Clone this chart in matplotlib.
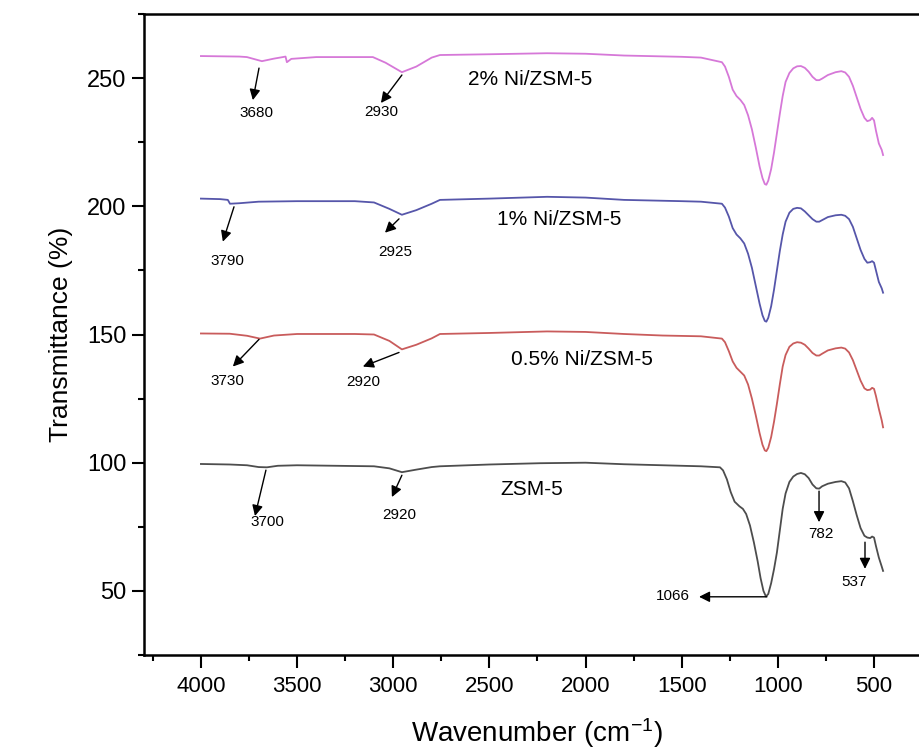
import matplotlib
matplotlib.use("Agg")
import matplotlib.pyplot as plt
from matplotlib.ticker import MultipleLocator

plt.rcParams['font.family'] = ['Liberation Sans', 'DejaVu Sans']
plt.rcParams['mathtext.fontset'] = 'custom'
plt.rcParams['mathtext.rm'] = 'Liberation Sans'
plt.rcParams['mathtext.default'] = 'regular'

# spectra: wavenumber (cm-1) / transmittance (%)
zsm_w = [4000, 3850, 3760, 3700, 3657, 3600, 3500, 3300, 3100, 3020, 2955, 2880, 2800, 2757,
         2500, 2237, 2000, 1800, 1500, 1400, 1301, 1285, 1265, 1245, 1225, 1200, 1182, 1165,
         1145, 1125, 1105, 1090, 1075, 1062, 1050, 1035, 1020, 1005, 990, 975, 960, 940, 920,
         900, 880, 860, 840, 820, 800, 785, 770, 740, 700, 670, 650, 630, 610, 590, 570, 550,
         535, 520, 510, 500, 490, 475, 460, 453]
zsm_t = [99.5, 99.3, 99.0, 98.3, 98.2, 98.8, 99.0, 98.8, 98.6, 97.8, 96.3, 97.3, 98.3, 98.6,
         99.3, 99.8, 100.0, 99.4, 98.8, 98.6, 98.2, 97.0, 93.5, 88.5, 84.8, 83.0, 82.0, 80.0,
         75.5, 69.0, 61.5, 55.0, 50.0, 47.8, 48.8, 53.0, 58.5, 65.0, 73.5, 82.0, 88.0, 92.5,
         94.6, 95.6, 96.0, 95.5, 94.0, 91.5, 90.0, 89.9, 90.8, 91.8, 92.5, 92.8, 92.3, 90.0,
         85.0, 79.5, 74.5, 71.5, 70.8, 70.6, 71.2, 70.8, 67.5, 63.0, 59.5, 57.8]

ni05_w = [4000, 3850, 3760, 3693, 3620, 3500, 3200, 3100, 3020, 2955, 2880, 2800, 2757, 2500,
          2200, 2000, 1800, 1600, 1400, 1291, 1275, 1255, 1235, 1215, 1195, 1175, 1155, 1135,
          1115, 1095, 1080, 1068, 1060, 1050, 1035, 1020, 1005, 990, 975, 960, 940, 920, 900,
          880, 860, 840, 820, 800, 785, 770, 740, 700, 670, 650, 630, 610, 590, 570, 550, 535,
          520, 510, 500, 490, 475, 460, 453]
ni05_t = [150.4, 150.3, 149.5, 148.4, 149.6, 150.2, 150.2, 150.0, 147.5, 144.2, 146.0, 148.5,
          150.2, 150.6, 151.2, 151.0, 150.2, 149.6, 149.3, 148.4, 147.0, 143.5, 139.5, 137.0,
          135.5, 134.0, 130.5, 125.0, 118.5, 111.5, 107.0, 104.8, 104.5, 105.8, 110.0, 116.0,
          123.0, 130.5, 137.5, 142.0, 145.2, 146.5, 147.0, 146.8, 146.0, 144.5, 142.8, 141.8,
          141.8, 142.5, 143.8, 144.6, 144.9, 144.5, 143.0, 140.0, 136.0, 132.0, 129.0, 128.3,
          128.5, 129.2, 128.8, 126.0, 121.0, 116.5, 113.8]

ni1_w = [4000, 3900, 3860, 3849, 3800, 3700, 3500, 3200, 3100, 3020, 2955, 2880, 2800, 2757,
         2500, 2200, 2000, 1800, 1500, 1400, 1291, 1275, 1255, 1235, 1215, 1195, 1175, 1155,
         1135, 1115, 1095, 1080, 1068, 1060, 1050, 1035, 1020, 1005, 990, 975, 960, 940, 920,
         900, 880, 860, 840, 820, 800, 785, 770, 740, 700, 670, 650, 630, 610, 590, 570, 550,
         535, 520, 510, 500, 490, 475, 460, 453]
ni1_t = [203.0, 202.8, 202.5, 201.0, 201.2, 201.8, 202.0, 202.0, 201.5, 199.0, 196.7, 198.5,
         201.0, 202.5, 203.0, 203.7, 203.4, 202.5, 202.0, 201.8, 201.0, 199.5, 196.0, 191.5,
         189.0, 187.5, 185.5, 181.5, 176.0, 169.0, 162.0, 157.5, 155.3, 155.0, 156.5, 161.0,
         167.5, 175.0, 182.5, 189.0, 194.0, 197.5, 199.0, 199.4, 199.2, 198.0, 196.5, 195.0,
         194.0, 194.0, 194.6, 195.8, 196.5, 196.7, 196.3, 195.0, 192.0, 187.5, 183.0, 179.5,
         178.0, 178.2, 178.6, 178.0, 175.0, 170.5, 168.0, 166.3]

ni2_w = [4000, 3800, 3761, 3683, 3620, 3574, 3560, 3553, 3530, 3400, 3106, 3040, 2955, 2880,
         2800, 2757, 2500, 2200, 2000, 1800, 1500, 1400, 1291, 1275, 1255, 1235, 1215, 1195,
         1175, 1155, 1135, 1115, 1095, 1080, 1068, 1060, 1050, 1035, 1020, 1005, 990, 975,
         960, 940, 920, 900, 880, 860, 840, 820, 800, 785, 770, 740, 700, 670, 650, 630, 610,
         590, 570, 550, 535, 520, 510, 500, 490, 475, 460, 453]
ni2_t = [258.6, 258.4, 258.2, 256.6, 257.6, 258.2, 258.4, 256.2, 257.5, 258.2, 258.2, 256.0,
         252.3, 254.5, 258.0, 259.0, 259.3, 259.7, 259.5, 258.8, 258.3, 258.0, 256.2, 254.5,
         250.5, 245.5, 243.0, 241.5, 239.5, 235.5, 230.0, 223.0, 215.5, 211.0, 208.7, 208.4,
         210.0, 214.5, 221.0, 228.5, 236.0, 243.0, 248.5, 252.0, 253.8, 254.6, 254.7, 254.0,
         252.5, 250.5, 249.2, 249.2, 249.8, 251.2, 252.3, 252.7, 252.2, 250.5, 247.0, 242.5,
         238.0, 234.5, 233.2, 233.6, 234.5, 233.5, 229.5, 224.5, 222.0, 220.0]

series = [
    (zsm_w, zsm_t, '#4d4d4d', 'ZSM-5', (2279, 89.7)),
    (ni05_w, ni05_t, '#c95c5c', '0.5% Ni/ZSM-5', (2019, 140.3)),
    (ni1_w, ni1_t, '#5656aa', '1% Ni/ZSM-5', (2138, 194.7)),
    (ni2_w, ni2_t, '#d678d8', '2% Ni/ZSM-5', (2289, 249.6)),
]

# peak labels: text, text position, arrow tail (on curve), arrow head
peak_labels = [
    ('3680', (3709, 236.4), (3698, 253.9), (3730, 241.4)),
    ('2930', (3064, 236.8), (2955, 251.2), (3064, 240.3)),
    ('3790', (3860, 178.8), (3828, 199.8), (3886, 186.2)),
    ('2925', (2991, 182.3), (2970, 195.1), (3043, 189.7)),
    ('3730', (3860, 131.7), (3698, 148.1), (3834, 137.5)),
    ('2920', (3158, 131.3), (2970, 143.0), (3158, 137.5)),
    ('3700', (3652, 76.8), (3662, 97.1), (3719, 79.2)),
    ('2920', (2970, 79.6), (2955, 95.1), (3007, 86.6)),
    ('1066', (1546, 48.0), (1057, 47.7), (1410, 47.7)),
    ('782', (776, 72.2), (786, 88.9), (786, 76.8)),
    ('537', (604, 53.5), (547, 69.0), (547, 58.6)),
]

fig = plt.figure(figsize=(9.2, 7.56), dpi=100)
ax = fig.add_axes([144 / 920, 1 - 655 / 756, 786 / 920, 641 / 756])

for w, t, color, name, pos in series:
    ax.plot(w, t, color=color, lw=1.3)
    ax.text(pos[0], pos[1], name, fontsize=15, ha='center', va='center')

for label, tpos, tail, head in peak_labels:
    ax.annotate('', xy=head, xytext=tail,
                arrowprops=dict(arrowstyle='-|>', color='black', lw=1.0,
                                mutation_scale=16, shrinkA=0, shrinkB=0))
    ax.text(tpos[0], tpos[1], label, fontsize=11, ha='center', va='center')

ax.set_xlim(4296, 209)
ax.set_ylim(25, 275)
ax.xaxis.set_major_locator(MultipleLocator(500))
ax.xaxis.set_minor_locator(MultipleLocator(250))
ax.yaxis.set_major_locator(MultipleLocator(50))
ax.yaxis.set_minor_locator(MultipleLocator(25))
ax.tick_params(which='major', direction='out', length=9, width=1.5, labelsize=17)
ax.tick_params(which='minor', direction='out', length=4.5, width=1.5)
ax.tick_params(axis='x', which='major', labelsize=16, pad=6)
ax.spines['right'].set_visible(False)
for side in ['left', 'top', 'bottom']:
    ax.spines[side].set_linewidth(1.8)

ax.set_xlabel('Wavenumber (cm$^{-1}$)', fontsize=20, labelpad=14)
ax.set_ylabel('Transmittance (%)', fontsize=19, labelpad=10)

fig.savefig('out.png', dpi=100)
